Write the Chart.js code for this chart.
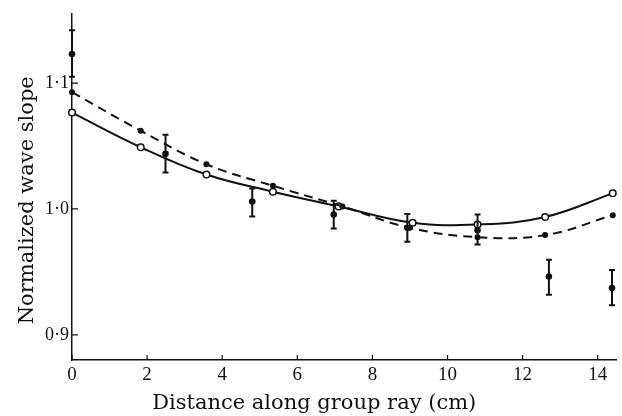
<!DOCTYPE html>
<html>
<head>
<meta charset="utf-8">
<script src="https://cdn.jsdelivr.net/npm/chart.js@4"></script>
<style>
  html, body { margin: 0; padding: 0; background: #fff; }
  #wrap { width: 622px; height: 416px; }
</style>
</head>
<body>
<div id="wrap"><canvas id="slopeChart"></canvas></div>
<script>
// open circles, solid curve
const openX = [0, 1.83, 3.58, 5.35, 7.1, 9.07, 10.8, 12.6, 14.4];
const openY = [1.0765, 1.049, 1.0273, 1.0137, 1.002, 0.989, 0.9876, 0.9936, 1.0124];

// filled dots, dashed curve
const fillX = [0, 1.83, 3.58, 5.35, 7.2, 9.0, 10.8, 12.6, 14.4];
const fillY = [1.0927, 1.0621, 1.0355, 1.0184, 1.002, 0.985, 0.9776, 0.9792, 0.995];

// measured points with error bars
const measX = [0, 2.49, 4.8, 6.97, 8.93, 10.8, 12.7, 14.38];
const measY = [1.123, 1.0438, 1.0059, 0.9955, 0.985, 0.983, 0.9463, 0.9371];
const measLo = [1.105, 1.0289, 0.9939, 0.9845, 0.974, 0.9718, 0.9319, 0.9235];
const measHi = [1.142, 1.059, 1.0163, 1.0064, 0.9959, 0.9955, 0.9596, 0.9515];

const xTicks = [0, 2, 4, 6, 8, 10, 12, 14];
const yTicks = [0.9, 1.0, 1.1];

function toPoints(xs, ys) {
    return xs.map((x, i) => ({ x: x, y: ys[i] }));
}

// draws error bars and inward tick marks using the chart's scales
const extrasPlugin = {
    id: 'extras',
    afterDatasetsDraw(chart) {
        const ctx = chart.ctx;
        const xs = chart.scales.x;
        const ys = chart.scales.y;
        ctx.save();
        ctx.strokeStyle = '#111';
        ctx.lineWidth = 2;
        measX.forEach((x, i) => {
            const px = xs.getPixelForValue(x);
            const top = ys.getPixelForValue(measHi[i]);
            const bot = ys.getPixelForValue(measLo[i]);
            ctx.beginPath();
            ctx.moveTo(px, top);
            ctx.lineTo(px, bot);
            ctx.moveTo(px - 3, top);
            ctx.lineTo(px + 3, top);
            ctx.moveTo(px - 3, bot);
            ctx.lineTo(px + 3, bot);
            ctx.stroke();
        });
        ctx.lineWidth = 1.2;
        const area = chart.chartArea;
        ctx.beginPath();
        yTicks.forEach(v => {
            const py = ys.getPixelForValue(v);
            ctx.moveTo(area.left, py);
            ctx.lineTo(area.left + 6, py);
        });
        xTicks.forEach(v => {
            const px = xs.getPixelForValue(v);
            ctx.moveTo(px, area.bottom);
            ctx.lineTo(px, area.bottom - 5);
        });
        ctx.stroke();
        ctx.restore();
    }
};

// trailing no-break spaces nudge the centred titles to where the original has them
const pad = n => '\u00a0'.repeat(n);

new Chart(document.getElementById('slopeChart').getContext('2d'), {
    type: 'scatter',
    data: {
        datasets: [{
            label: 'fitted (dashed)',
            data: toPoints(fillX, fillY),
            showLine: true,
            borderColor: '#111',
            borderWidth: 2,
            borderDash: [9, 6],
            tension: 0.4,
            pointRadius: 3,
            pointBackgroundColor: '#111',
            pointBorderColor: '#111',
            pointBorderWidth: 0,
            clip: false
        }, {
            label: 'fitted (solid)',
            data: toPoints(openX, openY),
            showLine: true,
            borderColor: '#111',
            borderWidth: 2,
            tension: 0.4,
            pointRadius: 3.3,
            pointBackgroundColor: '#fff',
            pointBorderColor: '#111',
            pointBorderWidth: 1.5,
            clip: false
        }, {
            label: 'measured',
            data: toPoints(measX, measY),
            showLine: false,
            pointRadius: 3.3,
            pointBackgroundColor: '#111',
            pointBorderColor: '#111',
            pointBorderWidth: 0,
            clip: false
        }]
    },
    options: {
        responsive: true,
        maintainAspectRatio: false,
        animation: false,
        layout: {
            padding: { left: 0, right: 2, top: 10, bottom: 0 }
        },
        plugins: {
            legend: { display: false },
            tooltip: { enabled: false }
        },
        scales: {
            x: {
                type: 'linear',
                min: 0,
                max: 14.5,
                afterFit: s => { s.height = 56; },
                afterBuildTicks: s => { s.ticks = xTicks.map(v => ({ value: v })); },
                grid: { display: false, drawTicks: false },
                border: { display: true, color: '#111', width: 1.5 },
                ticks: {
                    color: '#111',
                    padding: 4,
                    maxRotation: 0,
                    font: { family: 'Liberation Serif', size: 19 },
                    callback: v => String(v)
                },
                title: {
                    display: true,
                    text: 'Distance along group ray (cm)' + pad(9),
                    color: '#111',
                    font: { family: 'DejaVu Serif', size: 21 },
                    padding: { top: 0, bottom: 0 }
                }
            },
            y: {
                type: 'linear',
                min: 0.88,
                max: 1.155,
                afterFit: s => { s.width = 72; },
                afterBuildTicks: s => { s.ticks = yTicks.map(v => ({ value: v })); },
                grid: { display: false, drawTicks: false },
                border: { display: true, color: '#111', width: 1.5 },
                ticks: {
                    color: '#111',
                    padding: 3,
                    font: { family: 'Liberation Serif', size: 18 },
                    callback: v => v.toFixed(1).replace('.', '\u00b7')
                },
                title: {
                    display: true,
                    text: 'Normalized wave slope' + pad(4),
                    color: '#111',
                    font: { family: 'DejaVu Serif', size: 21 },
                    padding: { top: 15, bottom: 0 }
                }
            }
        }
    },
    plugins: [extrasPlugin]
});
</script>
</body>
</html>
